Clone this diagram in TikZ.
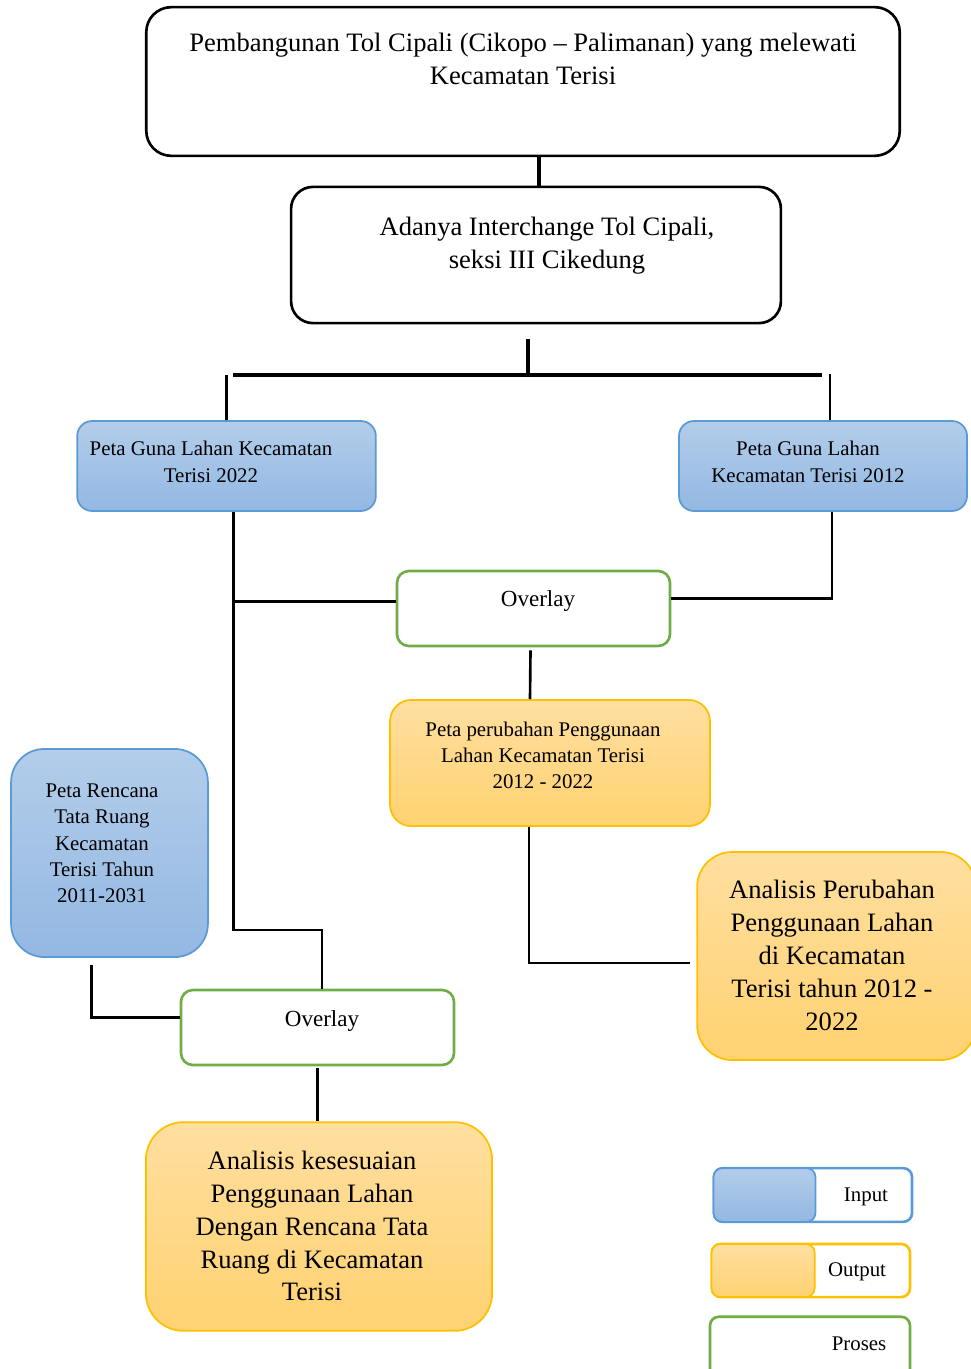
\documentclass[tikz,border=0pt]{standalone}
\usepackage{fontspec}
\setmainfont{Liberation Serif}
\usepackage{tikz}
\usetikzlibrary{calc}
\definecolor{blueT}{HTML}{B3CDEA}
\definecolor{blueB}{HTML}{93B8E2}
\definecolor{blueD}{HTML}{5B9BD5}
\definecolor{orT}{HTML}{FFDFA0}
\definecolor{orB}{HTML}{FFD271}
\definecolor{orD}{HTML}{FFC000}
\definecolor{grn}{HTML}{70AD47}
\tikzset{big/.style={font=\fontsize{12.1}{15}\selectfont, align=center}}
\tikzset{sm/.style={font=\fontsize{9.5}{12}\selectfont, align=center}}
\tikzset{ov/.style={font=\fontsize{10.5}{13}\selectfont}}
\tikzset{blk/.style={draw=black, line width=1.2pt, rectangle}}
\tikzset{inp/.style={draw=blueD, line width=0.8pt, top color=blueT, bottom color=blueB, rectangle}}
\tikzset{outp/.style={draw=orD, line width=0.8pt, top color=orT, bottom color=orB, rectangle}}
\tikzset{proc/.style={draw=grn, line width=1.2pt, fill=white, rectangle}}
\tikzset{conn/.style={line width=1.2pt}}
\tikzset{tconn/.style={line width=1.5pt}}

\begin{document}
\begin{tikzpicture}[x=0.016cm, y=-0.016cm]
    \useasboundingbox (0,0) rectangle (971,1369);
    % boxes
    \node[blk, minimum width=12.06cm, minimum height=2.38cm, rounded corners=0.4cm] (top) at (523,81.5) {};
    \node[big] (topt) at (523,58.5) {Pembangunan Tol Cipali (Cikopo -- Palimanan) yang melewati\\Kecamatan Terisi};
    \node[blk, minimum width=7.84cm, minimum height=2.18cm, rounded corners=0.35cm] (adanya) at (536,255) {};
    \node[big] (adanyat) at (547,245.5) {Adanya Interchange Tol Cipali,\\seksi III Cikedung};
    \node[inp, minimum width=4.78cm, minimum height=1.44cm, rounded corners=0.24cm] (pg22) at (226.5,466) {};
    \node[sm] (pg22t) at (211,462) {Peta Guna Lahan Kecamatan\\Terisi 2022};
    \node[inp, minimum width=4.61cm, minimum height=1.44cm, rounded corners=0.24cm] (pg12) at (823,466) {};
    \node[sm] (pg12t) at (808,462) {Peta Guna Lahan\\Kecamatan Terisi 2012};
    \node[proc, minimum width=4.37cm, minimum height=1.2cm, rounded corners=0.19cm] (ov1) at (533.5,608.5) {};
    \node[ov] (ov1t) at (538,601) {Overlay};
    \node[outp, minimum width=5.12cm, minimum height=2.02cm, rounded corners=0.34cm] (pp) at (550,763) {};
    \node[sm] (ppt) at (543,755.5) {Peta perubahan Penggunaan\\Lahan Kecamatan Terisi\\2012 - 2022};
    \node[inp, minimum width=3.15cm, minimum height=3.33cm, rounded corners=0.53cm] (rtr) at (109.5,853) {};
    \node[sm] (rtrt) at (102,843.5) {Peta Rencana\\Tata Ruang\\Kecamatan\\Terisi Tahun\\2011-2031};
    \node[outp, minimum width=4.46cm, minimum height=3.33cm, rounded corners=0.56cm] (ap) at (836.5,956) {};
    \node[big] (apt) at (832,955.5) {Analisis Perubahan\\Penggunaan Lahan\\di Kecamatan\\Terisi tahun 2012 -\\2022};
    \node[proc, minimum width=4.37cm, minimum height=1.2cm, rounded corners=0.19cm] (ov2) at (317.5,1027.5) {};
    \node[ov] (ov2t) at (322,1021) {Overlay};
    \node[outp, minimum width=5.54cm, minimum height=3.34cm, rounded corners=0.6cm] (ak) at (319,1226.5) {};
    \node[big] (akt) at (312,1226) {Analisis kesesuaian\\Penggunaan Lahan\\Dengan Rencana Tata\\Ruang di Kecamatan\\Terisi};
    % legend
    \node[draw=blueD, line width=1.2pt, fill=white, minimum width=3.17cm, minimum height=0.86cm, rounded corners=0.14cm] (lin) at (813,1195) {};
    \node[inp, anchor=west, minimum width=1.63cm, minimum height=0.86cm, rounded corners=0.14cm] (linf) at (lin.west) {};
    \node[sm] (lint) at (866,1197) {Input};
    \node[draw=orD, line width=1.2pt, fill=white, minimum width=3.17cm, minimum height=0.85cm, rounded corners=0.14cm] (lout) at (811,1270.5) {};
    \node[outp, anchor=west, minimum width=1.65cm, minimum height=0.85cm, rounded corners=0.14cm] (loutf) at (lout.west) {};
    \node[sm] (loutt) at (857,1272) {Output};
    \node[proc, minimum width=3.2cm, minimum height=1.0cm, rounded corners=0.14cm] (lpr) at (810,1348) {};
    \node[sm] (lprt) at (859,1344) {Proses};
    % connectors
    \coordinate (hl) at (233,375);
    \coordinate (hr) at (822,375);
    \coordinate (k1) at ($(pg22.south)+(7,0)$);
    \coordinate (k2) at (322,930);
    \coordinate (ovw) at ($(ov1.west)+(0,-7)$);
    \draw[tconn] ($(adanya.north)+(3,0)$) -- ($(adanya.north)+(3,-31)$);
    \draw[tconn] ($(adanya.south)+(-8,15)$) -- ($(adanya.south)+(-8,52)$);
    \draw[tconn] (hl) -- (hr);
    \draw[conn] (pg22.north) -- (pg22.north |- hl);
    \draw[conn] ($(pg12.north)+(7,0)$) -- ($(pg12.north)+(7,-46)$);
    \draw[conn] (k1) |- (k2) -- (k2 |- ov2.north);
    \draw[conn] (ovw) -- (k1 |- ovw);
    \draw[conn] ($(pg12.south)+(9,0)$) |- ($(ov1.east)+(0,-10)$);
    \draw[conn] ($(ov1.south)+(-3,3)$) -- ($(pp.north)+(-20,0)$);
    \draw[conn] ($(pp.south)+(-21,0)$) |- ($(ap.west)+(-6,7)$);
    \draw[conn] ($(rtr.south)+(-18,7)$) |- ($(ov2.west)+(0,-10)$);
    \draw[conn] ($(ov2.south)+(0,2)$) -- (ov2.south |- ak.north);
\end{tikzpicture}
\end{document}
